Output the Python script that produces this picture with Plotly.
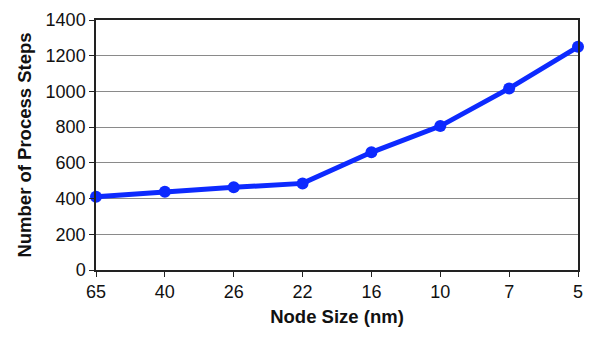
import plotly.graph_objects as go

node_sizes = ["65", "40", "26", "22", "16", "10", "7", "5"]
process_steps = [410, 438, 463, 485, 659, 806, 1017, 1250]
y_ticks = [0, 200, 400, 600, 800, 1000, 1200, 1400]

font_family = "Liberation Sans, Arial, Helvetica, sans-serif"
blue = "#0d2aff"

fig = go.Figure()
fig.add_trace(go.Scatter(
    x=list(range(len(node_sizes))),
    y=process_steps,
    mode="lines+markers",
    line=dict(color=blue, width=5),
    marker=dict(color=blue, size=12),
    showlegend=False,
    cliponaxis=False,
))

# page body has a default 8px margin, so the figure is sized to fit the window
fig.update_layout(
    width=592, height=333,
    margin=dict(l=88, r=22, t=12, b=71),
    paper_bgcolor="white", plot_bgcolor="white",
    font=dict(family=font_family, size=18, color="#111"),
)
fig.update_xaxes(
    range=[0, len(node_sizes) - 1],
    tickmode="array",
    tickvals=list(range(len(node_sizes))),
    ticktext=node_sizes,
    ticks="outside", ticklen=5, tickcolor="#222",
    showline=True, linecolor="#222", linewidth=1.5, mirror=True,
    showgrid=False, zeroline=False, automargin=False,
    title=dict(text="<b>Node Size (nm)</b>", font=dict(size=18.5), standoff=9),
)
fig.update_yaxes(
    range=[0, 1400],
    tickmode="array", tickvals=y_ticks,
    ticks="outside", ticklen=5, tickcolor="#222",
    showline=True, linecolor="#222", linewidth=1.5, mirror=True,
    showgrid=True, gridcolor="#8a8a8a", gridwidth=1.2,
    zeroline=False, automargin=False,
    title=dict(text="<b>Number of Process Steps</b>", font=dict(size=18.5), standoff=9),
)

fig.write_html("out.html")
